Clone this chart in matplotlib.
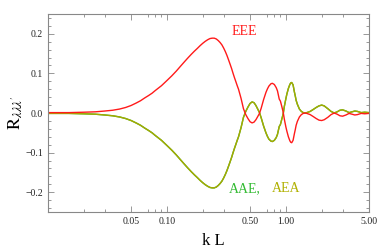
import matplotlib.pyplot as plt
from matplotlib.ticker import FixedLocator, NullFormatter, FixedFormatter

plt.rcParams['font.family'] = ['Liberation Serif', 'DejaVu Serif']
plt.rcParams['mathtext.fontset'] = 'stix'

# values
kL = [0.01, 0.015, 0.02, 0.025, 0.03, 0.035, 0.04, 0.045, 0.05, 0.055, 0.06,
      0.065, 0.07, 0.075, 0.08, 0.09, 0.1, 0.11, 0.12, 0.13, 0.14, 0.15,
      0.16, 0.17, 0.18, 0.19, 0.2, 0.21, 0.22, 0.23, 0.24, 0.25, 0.26, 0.27,
      0.28, 0.29, 0.3, 0.31, 0.32, 0.33, 0.34, 0.35, 0.36, 0.37, 0.38, 0.39,
      0.4, 0.42, 0.44, 0.46, 0.48, 0.5, 0.52, 0.54, 0.56, 0.58, 0.6, 0.62,
      0.65, 0.68, 0.7, 0.72, 0.75, 0.77, 0.8, 0.83, 0.85, 0.88, 0.9, 0.92,
      0.95, 0.97, 1.0, 1.02, 1.05, 1.08, 1.1, 1.12, 1.15, 1.18, 1.2, 1.22,
      1.25, 1.3, 1.35, 1.4, 1.45, 1.5, 1.6, 1.7, 1.8, 1.9, 2.0, 2.1, 2.25,
      2.4, 2.55, 2.7, 2.85, 3.0, 3.2, 3.4, 3.6, 3.8, 4.0, 4.3, 4.6, 5.0]

eee = [0.001, 0.001, 0.002, 0.003, 0.005, 0.007, 0.010, 0.014, 0.019, 0.025,
       0.031, 0.038, 0.044, 0.050, 0.057, 0.069, 0.082, 0.094, 0.106, 0.118,
       0.129, 0.139, 0.148, 0.156, 0.163, 0.170, 0.176, 0.181, 0.185, 0.188,
       0.189, 0.189, 0.187, 0.183, 0.178, 0.172, 0.164, 0.155, 0.145, 0.134,
       0.123, 0.112, 0.100, 0.089, 0.079, 0.069, 0.060, 0.037, 0.011, -0.004,
       -0.014, -0.022, -0.025, -0.023, -0.017, -0.009, -0.001, 0.012, 0.034,
       0.052, 0.061, 0.068, 0.074, 0.075, 0.072, 0.064, 0.056, 0.035, 0.030,
       0.019, 0.002, -0.015, -0.035, -0.046, -0.060, -0.070, -0.074, -0.075,
       -0.069, -0.052, -0.042, -0.031, -0.021, -0.010, -0.004, -0.001, 0.000,
       -0.001, -0.004, -0.009, -0.014, -0.018, -0.019, -0.017, -0.011, -0.004,
       0.000, -0.003, -0.007, -0.008, -0.005, -0.001, -0.003, -0.005, -0.004,
       -0.001, -0.002, -0.001]

aae = [-0.001, -0.001, -0.002, -0.003, -0.005, -0.007, -0.010, -0.014, -0.019,
       -0.025, -0.031, -0.038, -0.044, -0.050, -0.057, -0.069, -0.082, -0.094,
       -0.106, -0.118, -0.129, -0.139, -0.148, -0.156, -0.163, -0.170, -0.176,
       -0.181, -0.185, -0.188, -0.189, -0.189, -0.187, -0.183, -0.178, -0.172,
       -0.164, -0.155, -0.145, -0.134, -0.123, -0.112, -0.100, -0.089, -0.079,
       -0.069, -0.060, -0.037, -0.011, 0.004, 0.015, 0.024, 0.028, 0.026,
       0.019, 0.010, 0.001, -0.012, -0.033, -0.050, -0.059, -0.066, -0.071,
       -0.072, -0.069, -0.062, -0.054, -0.034, -0.029, -0.018, -0.002, 0.016,
       0.036, 0.048, 0.062, 0.072, 0.076, 0.077, 0.071, 0.053, 0.043, 0.032,
       0.022, 0.010, 0.004, 0.001, 0.000, 0.001, 0.004, 0.009, 0.014, 0.018,
       0.020, 0.018, 0.011, 0.004, 0.000, 0.003, 0.007, 0.008, 0.005, 0.001,
       0.003, 0.005, 0.004, 0.001, 0.002, 0.001]
aea = aae

fig = plt.figure(figsize=(3.79, 2.52), dpi=100)
ax = fig.add_axes([0.1266, 0.1587, 0.8470, 0.7857])

ax.plot(kL, aae, color='#33bb33', lw=1.0)
ax.plot(kL, aea, color='#a8a800', lw=1.0)
ax.plot(kL, eee, color='#ff1a1a', lw=1.0)

ax.set_xscale('log')
ax.set_xlim(0.01, 5.0)
ax.set_ylim(-0.25, 0.25)

xmaj = [0.05, 0.1, 0.5, 1.0, 5.0]
xmin = [0.02, 0.03, 0.07, 0.08, 0.09, 0.2, 0.3, 0.7, 0.8, 0.9, 2, 3]
ax.xaxis.set_major_locator(FixedLocator(xmaj))
ax.xaxis.set_major_formatter(FixedFormatter(['0.05', '0.10', '0.50', '1.00', '5.00']))
ax.xaxis.set_minor_locator(FixedLocator(xmin))
ax.xaxis.set_minor_formatter(NullFormatter())

ax.set_yticks([-0.2, -0.1, 0.0, 0.1, 0.2])
ax.set_yticklabels(['\u22120.2', '\u22120.1', '0.0', '0.1', '0.2'])
ax.set_yticks([i * 0.02 for i in range(-12, 13)], minor=True)

for s in ax.spines.values():
    s.set_color('#888888')
    s.set_linewidth(0.8)
ax.tick_params(which='both', direction='in', top=True, right=True,
               color='#888888', width=0.6, labelsize=7, labelcolor='#222222')
ax.tick_params(which='major', length=4)
ax.tick_params(which='minor', length=2)

ax.text(0.45, 0.205, 'EEE', color='#ff1a1a', fontsize=10, ha='center', va='center')
ax.text(0.45, -0.19, 'AAE,', color='#33bb33', fontsize=10, ha='center', va='center')
ax.text(1.0, -0.19, 'AEA', color='#b0b000', fontsize=10, ha='center', va='center')

ax.set_xlabel('k L', fontsize=12, labelpad=5, x=0.515)
ax.set_ylabel(r'$\mathrm{R}_{\lambda\lambda\lambda^{\prime}}$', fontsize=13, labelpad=0)

fig.savefig('out.png', dpi=100)
